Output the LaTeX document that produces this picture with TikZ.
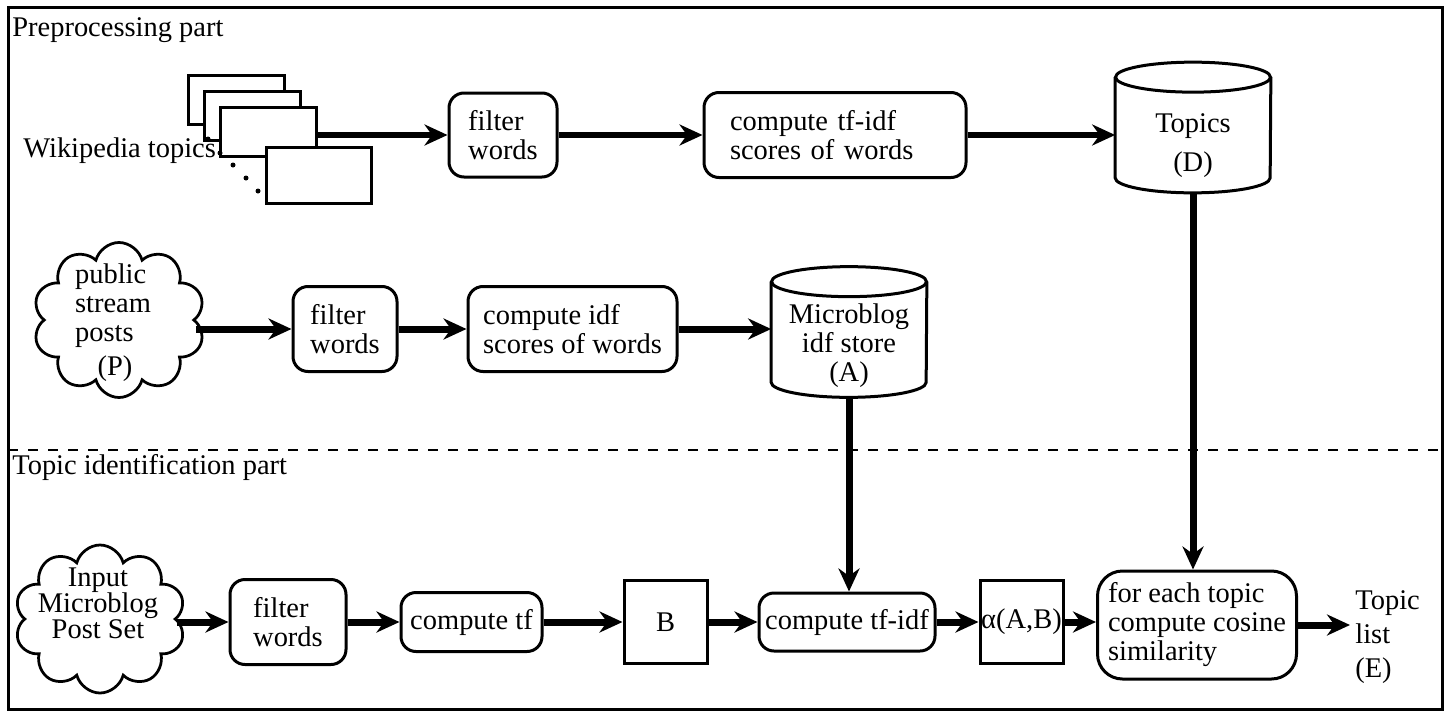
\documentclass[tikz,border=0pt]{standalone}
\usepackage{fontspec}
\setmainfont{Liberation Serif}
\usetikzlibrary{arrows.meta}
\usetikzlibrary{shapes.symbols}

\tikzset{
  proc/.style={draw, line width=0.6mm, rounded corners=3mm, align=left, inner sep=0pt},
  sqbox/.style={draw, line width=0.6mm, minimum width=16.6mm, minimum height=16.6mm, inner sep=0pt},
  page/.style={draw, fill=white, line width=0.6mm, inner sep=0pt, minimum width=19.2mm, minimum height=9.8mm},
  puffs/.style={draw, cloud, cloud puffs=10, cloud ignores aspect, line width=0.55mm, inner sep=0pt},
  store/.style={inner sep=0pt, minimum width=31mm, minimum height=23mm, align=center},
  tag/.style={anchor=west, inner sep=0pt},
  flow/.style={line width=1.4mm, -{Stealth[length=4.6mm, width=4.2mm, inset=1.5mm]}},
}
% cylinder outline round an invisible store node
\newcommand{\storeoutline}[1]{%
  \draw[line width=0.6mm] (#1.north west) -- ([yshift=3mm]#1.south west)
    arc[start angle=180, end angle=360, x radius=15.5mm, y radius=3mm] -- (#1.north east);
  \draw[line width=0.6mm] (#1.north) ellipse [x radius=15.5mm, y radius=3mm];}

\begin{document}
\begin{tikzpicture}[x=0.2mm, y=-0.2mm, font=\fontsize{16.2pt}{16.5pt}\selectfont]
	\useasboundingbox (0,0) rectangle (1448,711);
	% frame and divider
	\draw[line width=0.6mm] (8,7) rectangle (1442,709);
	\draw[line width=0.55mm, dash pattern=on 2mm off 2mm] (8,450) -- (1442,450);
	\node[tag] (prep) at (12,30.5) {Preprocessing part};
	\node[tag] (ident) at (12,468) {Topic identification part};

	% Wikipedia pages
	\node[page] (page1) at (236,100) {};
	\node[page] (page2) at (252,115.5) {};
	\node[page] (page3) at (268,131.5) {};
	\foreach \x/\y in {208/139, 220/153, 233/165, 246/178, 258/191}
		\fill (\x,\y) circle [radius=0.5mm];
	\node[page, minimum width=21mm, minimum height=11.2mm] (page4) at (318.5,175) {};
	\node[tag] (wiki) at (23,151) {Wikipedia topics};

	% preprocessing of topics
	\node[proc, minimum width=21.6mm, minimum height=16.8mm] (filtA) at (503,135) {filter\\words};
	\node[proc, text width=42mm, minimum width=52.4mm, minimum height=17mm] (tfidfA) at (835,135) {compute tf-idf\\scores of words};
	\node[store, text height=16mm] (topics) at (1193,135) {Topics\\[2mm](D)};
	\storeoutline{topics}

	% preprocessing of the public stream
	\node[puffs, minimum width=34.4mm, minimum height=31mm] (pub) at (119,320) {};
	\node[align=left, inner sep=0pt] (pubtext) at (113,323) {public\\stream\\posts\\[1mm]\hspace*{4.5mm}(P)};
	\node[proc, minimum width=20.8mm, minimum height=17mm] (filtB) at (345,329) {filter\\words};
	\node[proc, minimum width=41.8mm, minimum height=17mm] (idfB) at (572.5,329) {compute idf\\scores of words};
	\node[store, text height=18mm] (store) at (849,339.5) {Microblog\\idf store\\(A)};
	\storeoutline{store}

	% topic identification
	\node[puffs, minimum width=34.2mm, minimum height=29.6mm] (input) at (100,619) {};
	\node[align=center, inner sep=0pt] (inputtext) at (98,603) {Input\\[-0.6mm]Microblog\\[-0.6mm]Post Set};
	\node[proc, minimum width=23.2mm, minimum height=17mm] (filtC) at (288,622) {filter\\words};
	\node[proc, minimum width=28.2mm, minimum height=11.8mm] (tfC) at (471.5,622) {compute tf};
	\node[sqbox] (bvec) at (665.5,622) {B};
	\node[proc, minimum width=35.2mm, minimum height=11.6mm] (tfidfC) at (847,622) {compute tf-idf};
	\node[sqbox] (alpha) at (1021.5,622) {α(A,B)};
	\node[proc, rounded corners=5mm, minimum width=39.8mm, minimum height=21.6mm] (cosine) at (1197,625) {for each topic\\compute cosine\\similarity};
	\node[tag, align=left, inner xsep=1mm, font=\fontsize{16.2pt}{19.5pt}\selectfont] (toplist) at (1350,637) {Topic\\list\\(E)};

	% arrows
	\draw[flow, line width=1.2mm] (page3.east |- filtA.west) -- (filtA.west);
	\draw[flow, line width=1.2mm] (filtA) -- (tfidfA);
	\draw[flow, line width=1.2mm] (tfidfA) -- (topics);
	\draw[flow] (pub.east |- filtB.west) -- (filtB);
	\draw[flow] (filtB) -- (idfB);
	\draw[flow] (idfB.east) -- (idfB.east -| store.west);
	\draw[flow] (store.south) -- (store.south |- tfidfC.north);
	\draw[flow] (topics.south) -- (topics.south |- cosine.north);
	\draw[flow] (input.east |- filtC.west) -- (filtC);
	\draw[flow] (filtC) -- (tfC);
	\draw[flow] (tfC) -- (bvec);
	\draw[flow] (bvec) -- (tfidfC);
	\draw[flow] (tfidfC) -- (alpha);
	\draw[flow] (alpha) -- (alpha -| cosine.west);
	\draw[flow] (cosine.east) -- (cosine.east -| toplist.west);
\end{tikzpicture}
\end{document}
